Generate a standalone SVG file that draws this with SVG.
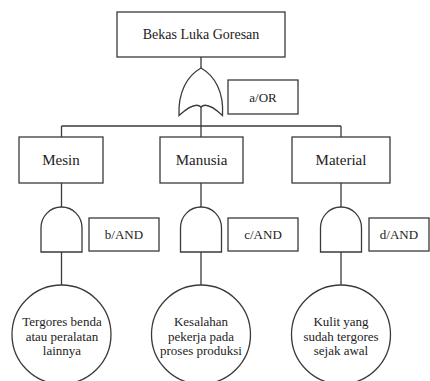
<svg xmlns="http://www.w3.org/2000/svg" width="430" height="381" viewBox="0 0 430 381" font-family="'Liberation Serif', 'Times New Roman', 'DejaVu Serif', serif">
<style>
.s{fill:#fff;stroke:#3a3a3a;stroke-width:1.3}
.l{fill:none;stroke:#3a3a3a;stroke-width:1.3}
text{font-family:'Liberation Serif','Times New Roman','DejaVu Serif',serif;fill:#222;text-anchor:middle}
.t14{font-size:14px}
.t15{font-size:15px}
.t13{font-size:13px}
</style>
<rect width="430" height="381" fill="#fff"/>
<g id="connectors">
<line class="l" x1="201" y1="57" x2="201" y2="68"/>
<line class="l" x1="201" y1="107" x2="201" y2="126"/>
<line class="l" x1="61.5" y1="126" x2="341" y2="126"/>
<line class="l" x1="61.5" y1="126" x2="61.5" y2="137"/>
<line class="l" x1="201" y1="126" x2="201" y2="137"/>
<line class="l" x1="341" y1="126" x2="341" y2="137"/>
<line class="l" x1="61.5" y1="183" x2="61.5" y2="207"/>
<line class="l" x1="201" y1="183" x2="201" y2="207"/>
<line class="l" x1="341" y1="183" x2="341" y2="207"/>
<line class="l" x1="61.5" y1="252" x2="61.5" y2="285"/>
<line class="l" x1="201" y1="252" x2="201" y2="285"/>
<line class="l" x1="341" y1="252" x2="341" y2="285"/>
</g>
<g id="top">
<rect class="s" x="117" y="12" width="168" height="45"/>
<text class="t14" x="201" y="39">Bekas Luka Goresan</text>
</g>
<g id="gate-a">
<path class="s" d="M179,115.5 C178,92 187,76 201,68 C215,76 224,92 222.5,115.5 Q207,101 201,107 Q195,101 179,115.5 Z"/>
<rect class="s" x="228" y="80" width="70" height="34"/>
<text class="t13" x="263" y="102">a/OR</text>
</g>
<g id="mesin">
<rect class="s" x="19" y="137" width="84" height="46"/>
<text class="t15" x="61" y="165">Mesin</text>
</g>
<g id="manusia">
<rect class="s" x="160" y="137" width="83" height="46"/>
<text class="t15" x="201.5" y="165">Manusia</text>
</g>
<g id="material">
<rect class="s" x="292" y="137" width="98" height="46"/>
<text class="t15" x="341" y="165">Material</text>
</g>
<g id="gate-b">
<path class="s" d="M41,252 V228 A20.5,21 0 0 1 82,228 V252 Z"/>
<rect class="s" x="89" y="218" width="70" height="33"/>
<text class="t13" x="124" y="239">b/AND</text>
</g>
<g id="gate-c">
<path class="s" d="M180.5,252 V228 A20.5,21 0 0 1 221.5,228 V252 Z"/>
<rect class="s" x="228" y="218" width="70" height="33"/>
<text class="t13" x="263" y="239">c/AND</text>
</g>
<g id="gate-d">
<path class="s" d="M320.5,252 V228 A20.5,21 0 0 1 361.5,228 V252 Z"/>
<rect class="s" x="369" y="218" width="60" height="33"/>
<text class="t13" x="399" y="239">d/AND</text>
</g>
<g id="event-1">
<circle class="s" cx="61.5" cy="334.5" r="49.5"/>
<text class="t13" x="62" y="326">Tergores benda</text>
<text class="t13" x="62" y="341">atau peralatan</text>
<text class="t13" x="62" y="355">lainnya</text>
</g>
<g id="event-2">
<circle class="s" cx="201" cy="334.5" r="49.5"/>
<text class="t13" x="201" y="326">Kesalahan</text>
<text class="t13" x="201" y="341">pekerja pada</text>
<text class="t13" x="201" y="355">proses produksi</text>
</g>
<g id="event-3">
<circle class="s" cx="341" cy="334.5" r="49.5"/>
<text class="t13" x="341" y="326">Kulit yang</text>
<text class="t13" x="341" y="341">sudah tergores</text>
<text class="t13" x="341" y="355">sejak awal</text>
</g>
</svg>
